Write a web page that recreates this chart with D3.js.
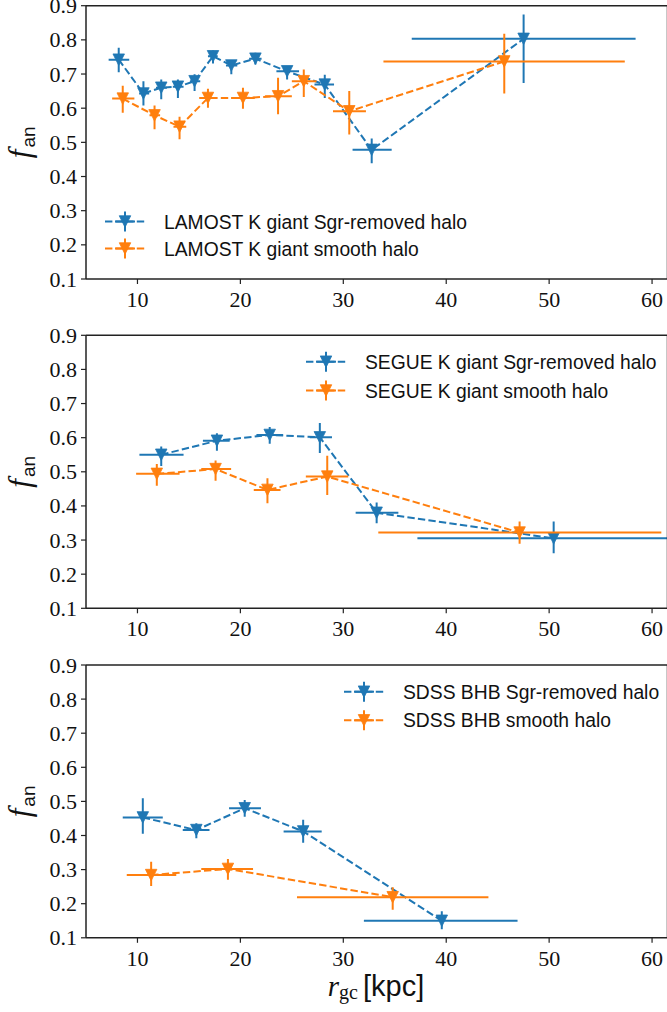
<!DOCTYPE html>
<html><head><meta charset="utf-8">
<script src="https://cdn.jsdelivr.net/npm/d3@7"></script>
<style>body{margin:0;background:#fff} svg{display:block}</style>
</head><body><svg id="c" width="667" height="1012"></svg>
<script>
// ---------- data ----------
const xTicks = [10, 20, 30, 40, 50, 60];
const yTicks = [0.1, 0.2, 0.3, 0.4, 0.5, 0.6, 0.7, 0.8, 0.9];
const yTickLabels = ["0.1", "0.2", "0.3", "0.4", "0.5", "0.6", "0.7", "0.8", "0.9"];

const lamostSgrR   = [8.18, 10.58, 12.31, 13.93, 15.55, 17.34, 19.12, 21.46, 24.54, 28.2, 32.76, 47.52];
const lamostSgrRLo = [7.2, 10.16, 11.8, 13.44, 15.1, 16.85, 18.6, 20.85, 23.5, 27.2, 30.9, 36.65];
const lamostSgrRHi = [9.2, 11.14, 12.86, 14.48, 16.1, 17.8, 19.7, 22.06, 25.7, 29.1, 34.7, 58.4];
const lamostSgrF   = [0.742, 0.643, 0.66, 0.663, 0.679, 0.752, 0.725, 0.745, 0.708, 0.669, 0.478, 0.803];
const lamostSgrFLo = [0.705, 0.608, 0.626, 0.63, 0.65, 0.731, 0.699, 0.728, 0.684, 0.63, 0.439, 0.674];
const lamostSgrFHi = [0.777, 0.679, 0.684, 0.684, 0.699, 0.769, 0.74, 0.762, 0.723, 0.698, 0.511, 0.874];

const lamostSmR   = [8.57, 11.66, 14.09, 16.85, 20.25, 23.66, 26.16, 30.58, 45.64];
const lamostSmRLo = [7.54, 11.17, 13.5, 16.0, 19.1, 22.4, 25.0, 29.0, 33.9];
const lamostSmRHi = [9.7, 12.2, 14.74, 17.6, 21.4, 25.0, 27.4, 32.2, 57.35];
const lamostSmF   = [0.628, 0.579, 0.546, 0.63, 0.63, 0.635, 0.679, 0.591, 0.737];
const lamostSmFLo = [0.587, 0.538, 0.509, 0.601, 0.598, 0.582, 0.633, 0.523, 0.643];
const lamostSmFHi = [0.666, 0.608, 0.575, 0.657, 0.66, 0.689, 0.713, 0.65, 0.818];

const segueSgrR   = [12.31, 17.72, 22.85, 27.72, 33.24, 50.44];
const segueSgrRLo = [10.19, 16.36, 21.56, 26.75, 31.2, 37.2];
const segueSgrRHi = [14.48, 18.96, 24.15, 28.9, 35.35, 64.0];
const segueSgrF   = [0.55, 0.591, 0.608, 0.601, 0.38, 0.305];
const segueSgrFLo = [0.517, 0.562, 0.582, 0.555, 0.349, 0.261];
const segueSgrFHi = [0.574, 0.613, 0.631, 0.643, 0.41, 0.354];

const segueSmR   = [11.88, 17.59, 22.63, 28.44, 47.13];
const segueSmRLo = [9.87, 16.2, 21.3, 26.36, 33.4];
const segueSmRHi = [14.09, 19.1, 23.9, 30.48, 60.9];
const segueSmF   = [0.494, 0.508, 0.447, 0.486, 0.322];
const segueSmFLo = [0.459, 0.474, 0.408, 0.432, 0.289];
const segueSmFHi = [0.523, 0.533, 0.481, 0.547, 0.354];

const sdssSgrR   = [10.52, 15.72, 20.42, 26.1, 39.57];
const sdssSgrRLo = [8.57, 14.4, 18.9, 24.2, 32.0];
const sdssSgrRHi = [12.46, 17.0, 22.0, 27.9, 46.93];
const sdssSgrF   = [0.453, 0.416, 0.48, 0.412, 0.15];
const sdssSgrFLo = [0.405, 0.392, 0.455, 0.379, 0.125];
const sdssSgrFHi = [0.509, 0.436, 0.504, 0.446, 0.178];

const sdssSmR   = [11.33, 18.79, 34.8];
const sdssSmRLo = [8.96, 16.2, 25.5];
const sdssSmRHi = [13.77, 21.23, 44.1];
const sdssSmF   = [0.284, 0.302, 0.219];
const sdssSmFLo = [0.252, 0.27, 0.182];
const sdssSmFHi = [0.323, 0.331, 0.248];

const legendLabels = [
  ["LAMOST K giant Sgr-removed halo", "LAMOST K giant smooth halo"],
  ["SEGUE K giant Sgr-removed halo", "SEGUE K giant smooth halo"],
  ["SDSS BHB Sgr-removed halo", "SDSS BHB smooth halo"]
];

// ---------- layout ----------
const BLUE = "#1f77b4", ORANGE = "#ff7f0e";
const left = 86, right = 667.5;
const panels = [
  {top: 5.7, bottom: 279, legend: {x: 125, y: [221.5, 248.5]},
   series: [[lamostSgrR, lamostSgrRLo, lamostSgrRHi, lamostSgrF, lamostSgrFLo, lamostSgrFHi],
            [lamostSmR, lamostSmRLo, lamostSmRHi, lamostSmF, lamostSmFLo, lamostSmFHi]]},
  {top: 335.3, bottom: 608.3, legend: {x: 326, y: [361.7, 390.5]},
   series: [[segueSgrR, segueSgrRLo, segueSgrRHi, segueSgrF, segueSgrFLo, segueSgrFHi],
            [segueSmR, segueSmRLo, segueSmRHi, segueSmF, segueSmFLo, segueSmFHi]]},
  {top: 665, bottom: 937.8, legend: {x: 364, y: [691.7, 720.3]},
   series: [[sdssSgrR, sdssSgrRLo, sdssSgrRHi, sdssSgrF, sdssSgrFLo, sdssSgrFHi],
            [sdssSmR, sdssSmRLo, sdssSmRHi, sdssSmF, sdssSmFLo, sdssSmFHi]]}
];
const colors = [BLUE, ORANGE];
const MS = 11.5;
const serif = "'Liberation Serif', 'DejaVu Serif', serif";
const sans = "'Liberation Sans', Arial, sans-serif";

const svg = d3.select("#c");
const x = d3.scaleLinear().domain([5, 61.5]).range([left, right]);

function tri(g, cx, cy, col) {
  const h = MS / 2;
  g.append("path")
    .attr("d", `M${cx - h},${cy - h}L${cx + h},${cy - h}L${cx},${cy + h}Z`)
    .attr("fill", col).attr("stroke", col).attr("stroke-width", 0.8);
}

panels.forEach((p, pi) => {
  const y = d3.scaleLinear().domain([0.1, 0.9]).range([p.bottom, p.top]);
  const g = svg.append("g");
  const clipId = "clip" + pi;
  svg.append("clipPath").attr("id", clipId).append("rect")
    .attr("x", left).attr("y", p.top).attr("width", right - left).attr("height", p.bottom - p.top);

  const plot = g.append("g").attr("clip-path", `url(#${clipId})`);
  p.series.forEach((s, si) => {
    const [R, RLo, RHi, F, FLo, FHi] = s;
    const col = colors[si];
    const sg = plot.append("g");
    const pts = R.map((r, i) => [x(r), y(F[i])]);
    sg.append("path").attr("d", d3.line()(pts)).attr("fill", "none")
      .attr("stroke", col).attr("stroke-width", 2).attr("stroke-dasharray", "7.4,3.2");
    R.forEach((r, i) => {
      sg.append("line").attr("x1", x(RLo[i])).attr("x2", x(RHi[i]))
        .attr("y1", y(F[i])).attr("y2", y(F[i])).attr("stroke", col).attr("stroke-width", 2);
      sg.append("line").attr("x1", x(r)).attr("x2", x(r))
        .attr("y1", y(FLo[i])).attr("y2", y(FHi[i])).attr("stroke", col).attr("stroke-width", 2);
    });
    R.forEach((r, i) => tri(sg, x(r), y(F[i]), col));
  });

  // axes
  const ax = g.append("g");
  [[left, right, p.top, p.top], [left, right, p.bottom, p.bottom],
   [left, left, p.top, p.bottom], [right, right, p.top, p.bottom]].forEach(([x1, x2, y1, y2]) => {
    ax.append("line").attr("x1", x1).attr("x2", x2).attr("y1", y1).attr("y2", y2)
      .attr("stroke", "#222").attr("stroke-width", 1.5);
  });

  xTicks.forEach(t => {
    ax.append("line").attr("x1", x(t)).attr("x2", x(t)).attr("y1", p.bottom).attr("y2", p.bottom + 5)
      .attr("stroke", "#222").attr("stroke-width", 1.2);
    ax.append("text").attr("x", x(t)).attr("y", p.bottom + 28).attr("text-anchor", "middle")
      .attr("font-family", serif).attr("font-size", 22).attr("fill", "#111").text(t);
  });
  yTicks.forEach((t, i) => {
    ax.append("line").attr("x1", left - 5).attr("x2", left).attr("y1", y(t)).attr("y2", y(t))
      .attr("stroke", "#222").attr("stroke-width", 1.2);
    ax.append("text").attr("x", left - 9).attr("y", y(t) + 7.5).attr("text-anchor", "end")
      .attr("font-family", serif).attr("font-size", 22).attr("fill", "#111").text(yTickLabels[i]);
  });

  // y label
  const cy = (p.top + p.bottom) / 2;
  const yl = g.append("text").attr("transform", `translate(30,${cy}) rotate(-90)`)
    .attr("text-anchor", "middle").attr("fill", "#111");
  yl.append("tspan").attr("font-family", serif).attr("font-style", "italic").attr("font-size", 31).text("f");
  yl.append("tspan").attr("font-family", sans).attr("font-size", 19).attr("dy", 5).attr("dx", 2).text("an");

  // legend
  const lg = g.append("g");
  legendLabels[pi].forEach((lab, li) => {
    const col = colors[li];
    const lx = p.legend.x, ly = p.legend.y[li];
    lg.append("line").attr("x1", lx - 20).attr("x2", lx + 20).attr("y1", ly).attr("y2", ly)
      .attr("stroke", col).attr("stroke-width", 2).attr("stroke-dasharray", "7.4,3.2");
    lg.append("line").attr("x1", lx - 10).attr("x2", lx + 10).attr("y1", ly).attr("y2", ly)
      .attr("stroke", col).attr("stroke-width", 2);
    lg.append("line").attr("x1", lx).attr("x2", lx).attr("y1", ly - 10).attr("y2", ly + 10)
      .attr("stroke", col).attr("stroke-width", 2);
    tri(lg, lx, ly, col);
    lg.append("text").attr("x", lx + 39).attr("y", ly + 7).attr("font-family", sans)
      .attr("font-size", 19.3).attr("fill", "#111").text(lab);
  });
});

// x label
const xl = svg.append("text").attr("x", 376).attr("y", 996).attr("text-anchor", "middle").attr("fill", "#111");
xl.append("tspan").attr("font-family", serif).attr("font-style", "italic").attr("font-size", 29).text("r");
xl.append("tspan").attr("font-family", serif).attr("font-size", 20).attr("dy", 3).text("gc");
xl.append("tspan").attr("font-family", sans).attr("font-size", 29).attr("dy", -3).attr("dx", 5).text("[kpc]");
</script></body></html>
